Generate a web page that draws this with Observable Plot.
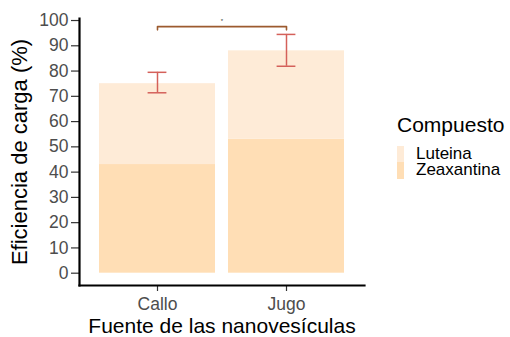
<!DOCTYPE html>
<html><head><meta charset="utf-8">
<script src="https://cdn.jsdelivr.net/npm/d3@7"></script>
<script src="https://cdn.jsdelivr.net/npm/@observablehq/plot@0.6"></script>
<style>
body{margin:0;background:#fff;}
#wrap{position:relative;width:510px;height:337px;font-family:"Liberation Sans",Arial,sans-serif;}
#wrap svg g[aria-label$="tick label"]{fill:#4D4D4D;}
#legend{position:absolute;left:397px;top:114px;color:#000;}
#legend .title{font-size:21px;line-height:21px;height:31.7px;}
#legend .row{display:flex;height:16.5px;line-height:16.5px;font-size:17px;}
#legend .key{width:7px;height:16.5px;}
#legend .lab{margin-left:12px;}
</style></head><body><div id="wrap"></div>
<script>
const fuentes = ["Callo", "Jugo"];
const compuestos = ["Luteina", "Zeaxantina"];
const luteina = [32, 35];
const zeaxantina = [43, 53];
const errLow = [71.4, 81.9];
const errHigh = [79.5, 94.5];
const bracketY = [96.3, 97.6];
const sigLabels = ["*"];
const sigY = [99.7];
const yTicks = [0, 10, 20, 30, 40, 50, 60, 70, 80, 90, 100];
const colores = ["#FEEBD7", "#FFDEB5"];
const xTitle = "Fuente de las nanovesículas";
const yTitle = "Eficiencia de carga (%)";
const legendTitle = "Compuesto";

const data = [];
fuentes.forEach((f, i) => {
  data.push({fuente: f, compuesto: "Zeaxantina", valor: zeaxantina[i]});
  data.push({fuente: f, compuesto: "Luteina", valor: luteina[i]});
});
const errs = fuentes.map((f, i) => ({fuente: f, lo: errLow[i], hi: errHigh[i]}));
const brk = [
  {fuente: fuentes[0], y: bracketY[0]},
  {fuente: fuentes[0], y: bracketY[1]},
  {fuente: fuentes[1], y: bracketY[1]},
  {fuente: fuentes[1], y: bracketY[0]}
];
const sig = sigLabels.map((t, i) => ({t, y: sigY[i]}));
const errColor = "#D4605A";

const chart = Plot.plot({
  width: 510, height: 337,
  marginLeft: 79, marginRight: 146, marginTop: 18, marginBottom: 52,
  style: {fontFamily: '"Liberation Sans", Arial, sans-serif', background: "transparent", overflow: "visible"},
  x: {domain: fuentes, paddingInner: 0.1, paddingOuter: 0.147},
  y: {domain: [-4.87, 100.8]},
  color: {domain: compuestos, range: colores},
  marks: [
    Plot.barY(data, {x: "fuente", y: "valor", fill: "compuesto", order: ["Zeaxantina", "Luteina"]}),
    Plot.ruleX(errs, {x: "fuente", y1: "lo", y2: "hi", stroke: errColor, strokeWidth: 1.5}),
    Plot.tickY(errs, {x: "fuente", y: "lo", stroke: errColor, strokeWidth: 1.5, insetLeft: 48.6, insetRight: 48.6}),
    Plot.tickY(errs, {x: "fuente", y: "hi", stroke: errColor, strokeWidth: 1.5, insetLeft: 48.6, insetRight: 48.6}),
    Plot.line(brk, {x: "fuente", y: "y", stroke: "#9C5A2E", strokeWidth: 1.6}),
    Plot.text(sig, {text: "t", y: "y", frameAnchor: "middle", fontSize: 6, fill: "#333"}),
    Plot.axisY({ticks: yTicks, tickSize: 8, tickPadding: 3, fontSize: 17.5, label: null, stroke: "#333", strokeWidth: 1.2}),
    Plot.axisX({tickSize: 6, tickPadding: 6, fontSize: 17.5, label: null, stroke: "#333", strokeWidth: 1.2}),
    Plot.frame({anchor: "left", stroke: "#000", strokeWidth: 2.2}),
    Plot.frame({anchor: "bottom", stroke: "#000", strokeWidth: 2.2}),
    Plot.text([xTitle], {frameAnchor: "bottom", lineAnchor: "middle", textAnchor: "middle", dy: 41, fontSize: 21, fill: "#000"}),
    Plot.text([yTitle], {frameAnchor: "left", lineAnchor: "middle", textAnchor: "middle", rotate: -90, dx: -60, fontSize: 22, fill: "#000"})
  ]
});
const wrap = document.getElementById("wrap");
wrap.appendChild(chart);

const legend = document.createElement("div");
legend.id = "legend";
const t = document.createElement("div");
t.className = "title";
t.textContent = legendTitle;
legend.appendChild(t);
compuestos.forEach((c, i) => {
  const row = document.createElement("div");
  row.className = "row";
  const k = document.createElement("div");
  k.className = "key";
  k.style.background = colores[i];
  const l = document.createElement("div");
  l.className = "lab";
  l.textContent = c;
  row.appendChild(k); row.appendChild(l);
  legend.appendChild(row);
});
wrap.appendChild(legend);
</script></body></html>
